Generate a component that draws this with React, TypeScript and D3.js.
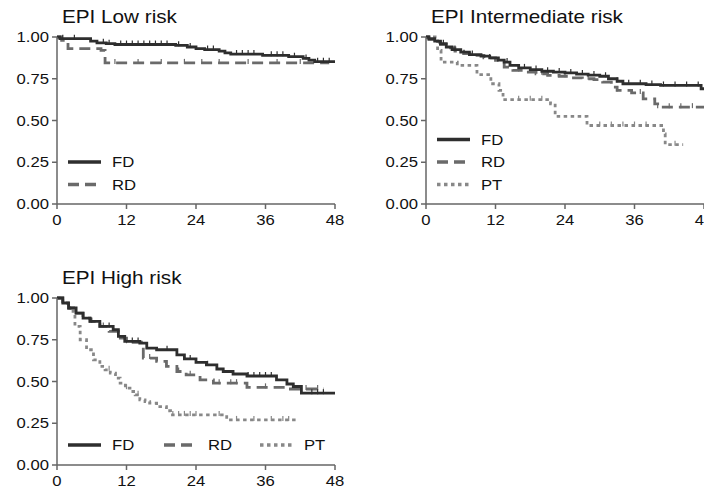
import React from 'react';
import * as d3 from 'd3';

// survival step data (months, proportion)
const lowFdT = [0, 0.5, 5.8, 6.9, 8.5, 10, 20.5, 22.5, 24, 25.5, 28, 29, 30, 35.5, 40, 42.5, 43.5, 44.5, 48];
const lowFdS = [1.0, 0.99, 0.975, 0.965, 0.96, 0.955, 0.95, 0.94, 0.93, 0.925, 0.915, 0.905, 0.898, 0.89, 0.882, 0.872, 0.862, 0.852, 0.852];
const lowRdT = [0, 0.8, 1.9, 7.6, 8.3, 47];
const lowRdS = [1.0, 0.98, 0.93, 0.92, 0.845, 0.845];

const intFdT = [0, 0.5, 1.5, 2.5, 3.5, 4.5, 6, 7.5, 9.5, 11, 12.5, 13.5, 14.5, 16, 18, 20, 22, 24, 26, 28, 30, 31.5, 33, 34, 38, 40.5, 47.5, 48];
const intFdS = [1.0, 0.99, 0.975, 0.96, 0.94, 0.925, 0.91, 0.895, 0.885, 0.875, 0.862, 0.85, 0.83, 0.815, 0.805, 0.795, 0.79, 0.785, 0.778, 0.772, 0.765, 0.75, 0.735, 0.72, 0.715, 0.71, 0.69, 0.69];
const intRdT = [0, 0.5, 1.5, 2.5, 3.5, 5, 6.5, 8, 10, 12, 13.5, 15, 17, 19, 21, 23, 25, 27, 29, 30.5, 32, 33, 35.5, 37.5, 39.5, 40, 48];
const intRdS = [1.0, 0.985, 0.97, 0.955, 0.935, 0.915, 0.9, 0.89, 0.875, 0.86, 0.82, 0.8, 0.79, 0.78, 0.77, 0.765, 0.755, 0.75, 0.745, 0.73, 0.7, 0.68, 0.665, 0.63, 0.6, 0.58, 0.575];
const intPtT = [0, 2, 2.6, 5.4, 8.8, 11.2, 12.6, 13.3, 21.5, 22.3, 27.8, 41, 41.3, 44.4];
const intPtS = [1.0, 0.92, 0.85, 0.83, 0.775, 0.72, 0.68, 0.625, 0.6, 0.525, 0.47, 0.42, 0.355, 0.355];

const highFdT = [0, 1, 2, 3.3, 4.5, 5.7, 7.4, 9.7, 10.6, 11.7, 14.3, 15.5, 17.2, 20.7, 22, 24, 25.8, 27.6, 28.7, 30.4, 32.8, 37.9, 39.7, 40.8, 42.2, 48];
const highFdS = [1.0, 0.97, 0.94, 0.91, 0.88, 0.86, 0.83, 0.81, 0.77, 0.74, 0.73, 0.7, 0.69, 0.66, 0.635, 0.615, 0.6, 0.575, 0.56, 0.545, 0.533, 0.51, 0.485, 0.47, 0.43, 0.43];
const highRdT = [0, 1, 2, 3.3, 4.5, 5.7, 7.4, 9, 10.6, 12, 14.9, 17.2, 18.9, 20.7, 22.3, 24.7, 27, 32.8, 39.8, 46];
const highRdS = [1.0, 0.96, 0.94, 0.91, 0.88, 0.86, 0.83, 0.8, 0.76, 0.735, 0.64, 0.62, 0.59, 0.56, 0.54, 0.51, 0.49, 0.465, 0.455, 0.455];
const highPtT = [0, 1, 2.2, 3.1, 4, 5.1, 6.3, 7.4, 8.3, 9.2, 10.1, 10.9, 11.8, 12.6, 13.5, 14.3, 15.2, 16, 17.2, 18.9, 19.6, 29.3, 41.5];
const highPtS = [1.0, 0.97, 0.92, 0.83, 0.75, 0.69, 0.63, 0.59, 0.57, 0.55, 0.52, 0.49, 0.46, 0.44, 0.42, 0.39, 0.38, 0.37, 0.35, 0.325, 0.3, 0.27, 0.27];

// censoring times
const lowFdC = [1, 3, 8, 9, 11, 12, 13, 14, 15, 16, 17, 18, 19, 21, 23, 26, 27, 31, 32, 33, 34, 37, 38, 39, 41, 43, 45, 46, 47];
const lowRdC = [10, 14, 18, 22, 25, 28, 33, 38, 42];
const intFdC = [3, 5, 8, 11, 14, 17, 19, 21, 23, 25, 27, 29, 31, 33, 35, 37, 39, 41, 43, 45, 47];
const intRdC = [16, 20, 24, 28, 33, 37, 40, 42, 44, 46];
const intPtC = [16, 18, 20, 30, 32, 34, 36, 38, 43];
const highFdC = [6, 9, 13, 14, 19, 23, 26, 33, 34, 35, 36, 37, 44, 45, 46];
const highRdC = [8, 12, 16, 21, 23, 28, 30, 31, 36, 41, 43, 45];
const highPtC = [9, 12, 14, 20, 21, 22, 23, 24, 28, 31, 34, 37, 39, 40];

const xTicks = [0, 12, 24, 36, 48];
const yTicks = [0, 0.25, 0.5, 0.75, 1.0];
const legendNames = ['FD', 'RD', 'PT'];

const styles: Record<string, { stroke: string; dash: string }> = {
  FD: { stroke: '#2e2e2e', dash: '' },
  RD: { stroke: '#6a6a6a', dash: '11 6' },
  PT: { stroke: '#888888', dash: '3.5 3.5' },
};

type Series = { name: string; t: number[]; s: number[]; c: number[] };

const panels: { title: string; left: number; top: number; series: Series[]; legend: 'col' | 'row' }[] = [
  {
    title: 'EPI Low risk', left: 57, top: 37, legend: 'col',
    series: [
      { name: 'RD', t: lowRdT, s: lowRdS, c: lowRdC },
      { name: 'FD', t: lowFdT, s: lowFdS, c: lowFdC },
    ],
  },
  {
    title: 'EPI Intermediate risk', left: 426, top: 37, legend: 'col',
    series: [
      { name: 'PT', t: intPtT, s: intPtS, c: intPtC },
      { name: 'RD', t: intRdT, s: intRdS, c: intRdC },
      { name: 'FD', t: intFdT, s: intFdS, c: intFdC },
    ],
  },
  {
    title: 'EPI High risk', left: 57, top: 298, legend: 'row',
    series: [
      { name: 'PT', t: highPtT, s: highPtS, c: highPtC },
      { name: 'RD', t: highRdT, s: highRdS, c: highRdC },
      { name: 'FD', t: highFdT, s: highFdS, c: highFdC },
    ],
  },
];

const W = 278;
const H = 167;
const font = '"Liberation Sans", Arial, sans-serif';

// text that is slightly wider than the font's natural width, like the source image
function T({ x, y, size, anchor = 'start', sx = 1.15, children }: any) {
  return (
    <text transform={`translate(${x},${y}) scale(${sx},1)`} fontSize={size} fontFamily={font}
      textAnchor={anchor} fill="#111">{children}</text>
  );
}

function Panel({ p }: { p: typeof panels[number] }) {
  const x = d3.scaleLinear().domain([0, 48]).range([0, W]);
  const y = d3.scaleLinear().domain([0, 1]).range([H, 0]);
  const line = d3.line<[number, number]>()
    .x(d => x(d[0]))
    .y(d => y(d[1]))
    .curve(d3.curveStepAfter);

  const names = p.series.map(s => s.name);
  const order = legendNames.filter(n => names.includes(n));

  return (
    <g transform={`translate(${p.left},${p.top})`}>
      <T x={5} y={-14} size={18}>{p.title}</T>
      {p.series.map(sr => {
        const pts = sr.t.map((t, i) => [t, sr.s[i]] as [number, number]);
        const st = styles[sr.name];
        const stepAt = (t: number) => {
          let v = sr.s[0];
          for (let i = 0; i < sr.t.length; i++) if (sr.t[i] <= t) v = sr.s[i];
          return v;
        };
        return (
          <g key={sr.name}>
            <path d={line(pts) || ''} fill="none" stroke={st.stroke} strokeWidth={2.8}
              strokeDasharray={st.dash} />
            {sr.c.filter(c => c <= sr.t[sr.t.length - 1]).map((c, i) => (
              <line key={i} x1={x(c)} x2={x(c)} y1={y(stepAt(c)) - 4} y2={y(stepAt(c)) + 1}
                stroke={st.stroke} strokeWidth={1.2} />
            ))}
          </g>
        );
      })}
      {/* axes */}
      <line x1={0} x2={0} y1={y(1)} y2={y(0)} stroke="#666" strokeWidth={1.5} />
      <line x1={0} x2={W} y1={H} y2={H} stroke="#666" strokeWidth={1.5} />
      {yTicks.map(v => (
        <g key={v}>
          <line x1={-5} x2={0} y1={y(v)} y2={y(v)} stroke="#666" strokeWidth={1.5} />
          <T x={-8} y={y(v) + 5} size={14.5} anchor="end">{v.toFixed(2)}</T>
        </g>
      ))}
      {xTicks.map(v => (
        <g key={v}>
          <line x1={x(v)} x2={x(v)} y1={H} y2={H + 5} stroke="#666" strokeWidth={1.5} />
          <T x={x(v)} y={H + 21} size={14.5} anchor="middle">{v}</T>
        </g>
      ))}
      {/* legend */}
      {order.map((n, i) => {
        const lx = p.legend === 'col' ? 11 : 11 + i * 96;
        const ly = p.legend === 'col' ? 125 + i * 22.5 - (order.length - 2) * 22.5 : 147;
        const st = styles[n];
        return (
          <g key={n}>
            <line x1={lx} x2={lx + 33} y1={ly} y2={ly} stroke={st.stroke} strokeWidth={3.5}
              strokeDasharray={st.dash} />
            <T x={lx + 44} y={ly + 5} size={14.5}>{n}</T>
          </g>
        );
      })}
    </g>
  );
}

export default function App() {
  return (
    <svg width={704} height={489} style={{ position: 'absolute', left: 0, top: 0, background: '#fff' }}>
      <rect width={704} height={489} fill="#fff" />
      {panels.map(p => <Panel key={p.title} p={p} />)}
    </svg>
  );
}
